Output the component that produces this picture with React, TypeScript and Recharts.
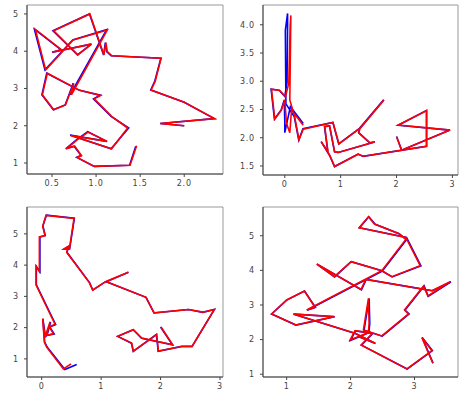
import React from 'react';
import { ScatterChart, Scatter, XAxis, YAxis, ReferenceArea } from 'recharts';

type Pt = [number, number];

// ---------- Panel 1 (top-left) ----------
const p1Red: Pt[] = [
  [1.46, 1.46], [1.385, 0.94], [0.98, 0.91], [0.785, 1.15], [0.834, 1.2], [0.758, 1.45], [0.663, 1.38],
  [0.785, 1.62], [0.91, 1.83], [1.127, 1.58], [0.709, 1.74], [1.176, 1.38], [1.358, 1.94], [1.176, 2.25],
  [0.979, 2.72], [1.051, 2.81], [0.815, 2.95], [0.447, 3.41], [0.39, 2.83], [0.519, 2.43], [0.652, 2.56],
  [0.732, 3.04], [0.747, 3.14], [0.72, 2.83], [1.127, 4.57], [0.739, 4.3], [0.428, 3.5], [0.31, 4.59],
  [0.606, 4.04], [0.504, 3.97], [0.948, 4.19], [0.792, 3.9], [0.519, 4.55], [0.929, 5.0], [1.089, 3.9],
  [1.111, 4.23], [1.127, 3.99], [1.176, 3.88], [1.738, 3.81], [1.67, 3.19], [1.624, 2.96], [2.0, 2.63],
  [2.346, 2.19], [1.727, 2.06], [2.0, 2.0],
];
const p1Blue: Pt[] = [
  [1.45, 1.45], [1.38, 0.94], [0.98, 0.91], [0.78, 1.15], [0.83, 1.2], [0.75, 1.45], [0.655, 1.38],
  [0.78, 1.63], [0.905, 1.84], [1.12, 1.58], [0.705, 1.75], [1.17, 1.38], [1.37, 1.94], [1.17, 2.25],
  [0.97, 2.72], [1.045, 2.82], [0.81, 2.95], [0.44, 3.41], [0.385, 2.83], [0.515, 2.43], [0.65, 2.56],
  [0.725, 3.04], [0.74, 3.14], [0.705, 2.83], [1.12, 4.58], [0.735, 4.3], [0.42, 3.5], [0.3, 4.59],
  [0.6, 4.04], [0.5, 3.97], [0.945, 4.19], [0.79, 3.9], [0.51, 4.55], [0.925, 5.0], [1.085, 3.9],
  [1.105, 4.23], [1.12, 3.99], [1.17, 3.88], [1.735, 3.81], [1.665, 3.19], [1.62, 2.96], [2.0, 2.63],
  [2.34, 2.19], [1.727, 2.06], [2.0, 2.0],
];
const p1XTicks = [0.5, 1.0, 1.5, 2.0];
const p1YTicks = [1, 2, 3, 4, 5];

// ---------- Panel 2 (top-right) ----------
const p2Red: Pt[] = [
  [2.002, 2.017], [2.092, 1.779], [2.959, 2.135], [2.032, 2.224], [2.54, 2.48], [2.54, 1.85],
  [1.405, 1.672], [1.315, 1.708], [0.893, 1.49], [0.803, 1.69], [0.653, 1.93], [0.773, 1.75],
  [0.715, 2.195], [0.803, 2.21], [0.893, 1.75], [0.96, 1.74], [1.614, 1.928], [1.524, 1.91],
  [1.327, 2.088], [1.345, 2.165], [1.775, 2.67], [1.36, 2.18], [0.97, 1.89], [0.863, 2.27],
  [0.33, 2.15], [0.254, 1.96], [0.177, 2.37], [0.09, 2.67], [0.108, 4.166], [0.096, 3.976],
  [0.072, 2.967], [0.012, 2.729], [-0.09, 2.836], [-0.239, 2.86], [-0.179, 2.331], [-0.06, 2.492],
  [0.0, 2.67], [0.03, 2.254], [0.09, 2.088], [0.12, 2.49], [0.33, 2.22],
];
const p2Blue: Pt[] = [
  [2.0, 2.02], [2.09, 1.78], [2.955, 2.135], [2.03, 2.22], [2.535, 2.48], [2.535, 1.85],
  [1.4, 1.67], [1.31, 1.71], [0.89, 1.49], [0.8, 1.69], [0.65, 1.93], [0.77, 1.75],
  [0.71, 2.2], [0.8, 2.21], [0.89, 1.75], [0.955, 1.74], [1.61, 1.925], [1.52, 1.91],
  [1.32, 2.09], [1.34, 2.17], [1.77, 2.67], [1.355, 2.18], [0.965, 1.89], [0.86, 2.27],
  [0.325, 2.16], [0.25, 1.96], [0.17, 2.37], [0.02, 2.6], [0.01, 3.9], [0.05, 4.2],
  [0.05, 4.0], [0.04, 2.98], [0.0, 2.73], [-0.1, 2.84], [-0.245, 2.86], [-0.185, 2.33],
  [-0.065, 2.49], [-0.01, 2.67], [0.0, 2.3], [0.0, 2.09], [0.1, 2.55], [0.33, 2.25],
];
const p2XTicks = [0, 1, 2, 3];
const p2YTicks = [1.5, 2.0, 2.5, 3.0, 3.5, 4.0];

// ---------- Panel 3 (bottom-left) ----------
const p3Red: Pt[] = [
  [0.494, 0.84], [0.365, 0.68], [0.084, 1.376], [0.045, 1.538], [0.017, 2.29], [0.056, 1.7],
  [0.14, 2.183], [0.084, 1.753], [0.196, 1.806], [0.129, 2.022], [0.224, 2.108], [-0.095, 3.366],
  [-0.095, 3.957], [-0.039, 3.796], [-0.039, 4.903], [0.056, 4.946], [0.017, 5.247], [0.073, 5.591],
  [0.544, 5.495], [0.466, 4.516], [0.376, 4.516], [0.449, 4.602], [0.421, 4.409], [0.802, 3.441],
  [0.858, 3.204], [1.049, 3.441], [1.458, 3.774], [1.082, 3.473], [1.755, 2.968], [1.89, 2.473],
  [2.468, 2.581], [2.709, 2.495], [2.905, 2.581], [2.529, 1.398], [2.356, 1.398], [1.963, 1.247],
  [1.935, 1.785], [1.542, 1.247], [1.514, 1.505], [1.279, 1.72], [1.542, 1.935], [1.683, 1.667],
  [2.204, 1.452], [2.008, 2.022],
];
const p3Blue: Pt[] = [
  [0.589, 0.817], [0.39, 0.66], [0.095, 1.37], [0.05, 1.54], [0.02, 2.28], [0.065, 1.69],
  [0.15, 2.18], [0.09, 1.75], [0.21, 1.8], [0.135, 2.02], [0.235, 2.1], [-0.09, 3.37],
  [-0.09, 3.96], [-0.03, 3.79], [-0.03, 4.9], [0.06, 4.95], [0.02, 5.25], [0.08, 5.6],
  [0.55, 5.5], [0.47, 4.52], [0.38, 4.52], [0.455, 4.6], [0.425, 4.41], [0.805, 3.44],
  [0.86, 3.2], [1.05, 3.44], [1.46, 3.77], [1.085, 3.47], [1.755, 2.97], [1.89, 2.47],
  [2.47, 2.58], [2.71, 2.49], [2.905, 2.58], [2.53, 1.4], [2.355, 1.4], [1.96, 1.24],
  [1.93, 1.78], [1.54, 1.24], [1.51, 1.5], [1.28, 1.72], [1.54, 1.93], [1.68, 1.66],
  [2.2, 1.45], [2.0, 2.02],
];
const p3XTicks = [0, 1, 2, 3];
const p3YTicks = [1, 2, 3, 4, 5];

// ---------- Panel 4 (bottom-right) ----------
const p4Red: Pt[] = [
  [3.287, 1.317], [3.115, 2.058], [3.272, 1.683], [2.88, 1.154], [2.164, 1.846], [2.342, 2.183],
  [2.07, 2.26], [1.992, 1.99], [2.279, 2.202], [2.29, 2.471], [2.279, 3.192], [2.201, 2.279],
  [2.488, 2.106], [2.906, 2.74], [2.843, 2.856], [3.141, 3.548], [3.209, 3.26], [3.559, 3.673],
  [3.272, 3.413], [3.141, 3.452], [2.238, 3.74], [2.164, 3.452], [1.47, 4.183], [1.747, 3.817],
  [2.008, 4.25], [2.488, 3.99], [2.645, 3.817], [3.089, 4.135], [2.864, 4.952], [2.133, 5.231],
  [2.279, 5.548], [2.373, 5.337], [2.749, 5.067], [2.864, 4.894], [2.488, 3.99], [1.313, 2.856],
  [1.444, 2.933], [1.277, 3.404], [1.0, 3.144], [0.765, 2.74], [1.141, 2.423], [1.747, 2.663],
  [1.104, 2.74], [2.07, 2.183], [2.384, 1.894], [2.123, 2.087],
];
const p4Blue: Pt[] = [
  [3.29, 1.32], [3.12, 2.06], [3.28, 1.68], [2.885, 1.15], [2.17, 1.84], [2.35, 2.18],
  [2.075, 2.25], [2.0, 1.98], [2.285, 2.2], [2.3, 2.46], [2.29, 3.19], [2.21, 2.27],
  [2.495, 2.1], [2.915, 2.74], [2.85, 2.85], [3.15, 3.55], [3.215, 3.25], [3.57, 3.67],
  [3.28, 3.41], [3.15, 3.45], [2.245, 3.74], [2.17, 3.44], [1.475, 4.18], [1.75, 3.81],
  [2.01, 4.25], [2.49, 3.99], [2.65, 3.81], [3.1, 4.13], [2.875, 4.95], [2.14, 5.23],
  [2.285, 5.55], [2.385, 5.33], [2.76, 5.06], [2.875, 4.89], [2.495, 3.98], [1.32, 2.85],
  [1.45, 2.93], [1.28, 3.4], [1.0, 3.14], [0.765, 2.74], [1.145, 2.42], [1.75, 2.66],
  [1.11, 2.735], [2.075, 2.175], [2.39, 1.89], [2.13, 2.08],
];
const p4XTicks = [1, 2, 3];
const p4YTicks = [1, 2, 3, 4, 5];

interface PanelProps {
  red: Pt[];
  blue: Pt[];
  xDomain: [number, number];
  yDomain: [number, number];
  xTicks: number[];
  yTicks: number[];
  xDec: number;
  yDec: number;
  left: number;
  top: number;
  w: number;
  h: number;
}

const YW = 34;
const MT = 4;
const MR = 4;
const XH = 22;

const tickStyle = { fontSize: 8, fill: '#444', fontFamily: 'DejaVu Sans', letterSpacing: 0.8 };

function Panel(p: PanelProps) {
  const toData = (pts: Pt[]) => pts.map(([x, y]) => ({ x, y }));
  return (
    <div style={{ position: 'absolute', left: p.left - YW, top: p.top - MT }}>
      <ScatterChart
        width={p.w + YW + MR}
        height={p.h + MT + XH}
        margin={{ top: MT, right: MR, bottom: 0, left: 0 }}
      >
        <XAxis
          type="number"
          dataKey="x"
          domain={p.xDomain}
          ticks={p.xTicks}
          interval={0}
          allowDataOverflow
          height={XH}
          tickSize={3}
          tickMargin={3}
          stroke="#444"
          tick={tickStyle}
          tickFormatter={(v: number) => v.toFixed(p.xDec)}
        />
        <YAxis
          type="number"
          dataKey="y"
          domain={p.yDomain}
          ticks={p.yTicks}
          interval={0}
          allowDataOverflow
          width={YW}
          tickSize={3}
          tickMargin={5}
          stroke="#444"
          tick={tickStyle}
          tickFormatter={(v: number) => v.toFixed(p.yDec)}
        />
        <ReferenceArea
          x1={p.xDomain[0]}
          x2={p.xDomain[1]}
          y1={p.yDomain[0]}
          y2={p.yDomain[1]}
          fill="none"
          stroke="#999"
          strokeWidth={1}
          ifOverflow="visible"
        />
        <Scatter
          data={toData(p.blue)}
          fill="#0000ff"
          line={{ stroke: '#0000ff', strokeWidth: 1.6 }}
          shape={() => <g />}
          isAnimationActive={false}
        />
        <Scatter
          data={toData(p.red)}
          fill="#ff0000"
          line={{ stroke: '#ff0000', strokeWidth: 1.6 }}
          shape={() => <g />}
          isAnimationActive={false}
        />
      </ScatterChart>
    </div>
  );
}

export default function App() {
  return (
    <div style={{ position: 'absolute', left: 0, top: 0, width: 471, height: 393, background: '#fff', overflow: 'hidden' }}>
      <Panel red={p1Red} blue={p1Blue} xDomain={[0.216, 2.44]} yDomain={[0.705, 5.24]}
        xTicks={p1XTicks} yTicks={p1YTicks} xDec={1} yDec={0} left={27} top={5} w={196} h={169} />
      <Panel red={p2Red} blue={p2Blue} xDomain={[-0.39, 3.1]} yDomain={[1.34, 4.35]}
        xTicks={p2XTicks} yTicks={p2YTicks} xDec={0} yDec={1} left={263} top={5} w={195} h={170} />
      <Panel red={p3Red} blue={p3Blue} xDomain={[-0.247, 3.05]} yDomain={[0.42, 5.86]}
        xTicks={p3XTicks} yTicks={p3YTicks} xDec={0} yDec={0} left={27} top={207} w={196} h={170} />
      <Panel red={p4Red} blue={p4Blue} xDomain={[0.63, 3.68]} yDomain={[0.92, 5.83]}
        xTicks={p4XTicks} yTicks={p4YTicks} xDec={0} yDec={0} left={263} top={207} w={195} h={170} />
    </div>
  );
}
